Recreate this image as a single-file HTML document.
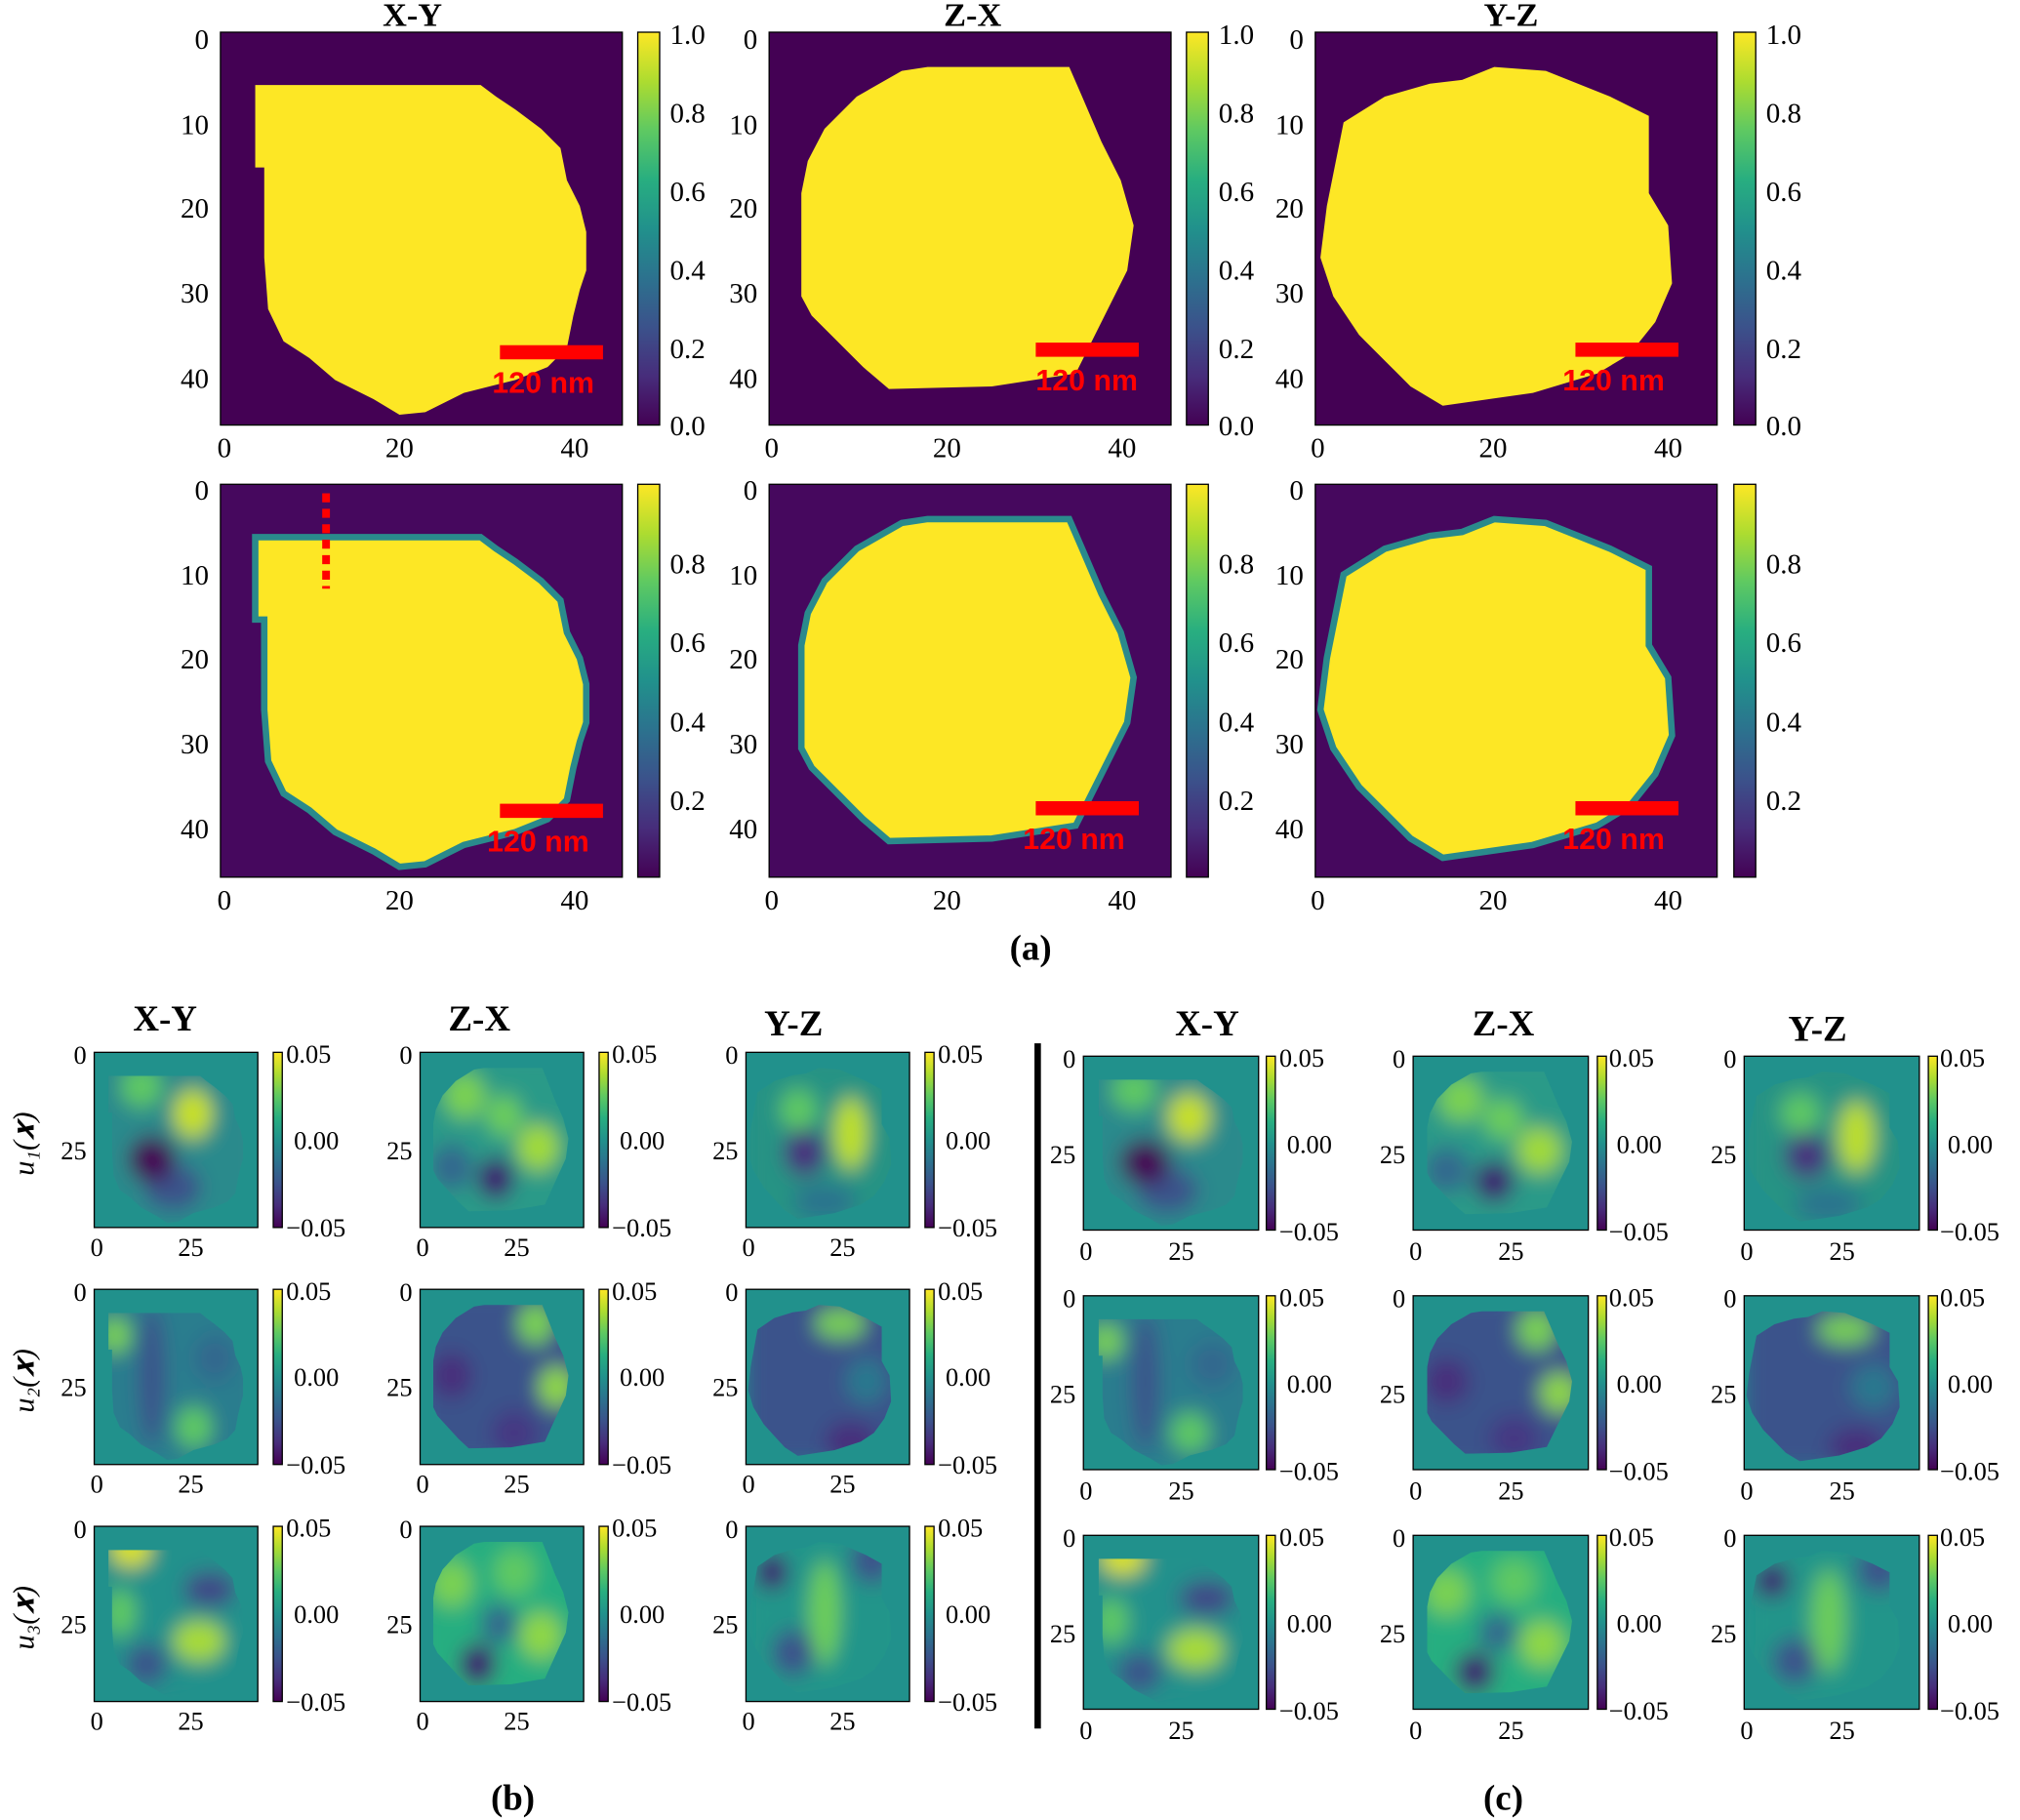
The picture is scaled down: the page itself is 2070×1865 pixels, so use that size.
<!DOCTYPE html>
<html><head><meta charset="utf-8"><style>html,body{margin:0;padding:0;background:#fff}svg{display:block}</style></head><body>
<svg width="2070" height="1865" viewBox="0 0 1568 1413" xmlns="http://www.w3.org/2000/svg" xmlns:xlink="http://www.w3.org/1999/xlink" font-family="'Liberation Serif', serif">
<defs>
<linearGradient id="vir" x1="0" y1="1" x2="0" y2="0">
<stop offset="0" stop-color="#440154"/><stop offset=".125" stop-color="#472d7b"/><stop offset=".25" stop-color="#3b528b"/><stop offset=".375" stop-color="#2c728e"/><stop offset=".5" stop-color="#21918c"/><stop offset=".625" stop-color="#28ae80"/><stop offset=".75" stop-color="#5ec962"/><stop offset=".875" stop-color="#addc30"/><stop offset="1" stop-color="#fde725"/></linearGradient>
<filter id="bl" x="-50%" y="-50%" width="200%" height="200%"><feGaussianBlur stdDeviation="18"/></filter>
<clipPath id="cXY"><polygon points="27,41 202,41 214,50 229,60 249,75 264,90 269,115 279,135 284,155 284,185 279,200 274,220 269,245 254,260 229,270 189,280 159,295 139,297 119,285 89,270 69,253 49,240 37,215 34,175 34,105 27,105"/></clipPath>
<clipPath id="cZX"><polygon points="30,100 43,75 68,50 103,30 123,27 233,27 243,50 258,85 273,115 283,150 278,185 263,215 248,245 238,265 173,275 93,277 73,260 53,240 33,220 25,205 25,125"/></clipPath>
<clipPath id="cYZ"><polygon points="22,70 54,50 89,40 114,37 139,27 179,30 229,50 259,65 259,125 274,150 277,195 264,225 244,250 219,265 169,280 99,290 74,275 54,255 34,235 14,205 4,175 9,135 19,85"/></clipPath>
<polygon id="pXY" points="27,41 202,41 214,50 229,60 249,75 264,90 269,115 279,135 284,155 284,185 279,200 274,220 269,245 254,260 229,270 189,280 159,295 139,297 119,285 89,270 69,253 49,240 37,215 34,175 34,105 27,105"/>
<polygon id="pZX" points="30,100 43,75 68,50 103,30 123,27 233,27 243,50 258,85 273,115 283,150 278,185 263,215 248,245 238,265 173,275 93,277 73,260 53,240 33,220 25,205 25,125"/>
<polygon id="pYZ" points="22,70 54,50 89,40 114,37 139,27 179,30 229,50 259,65 259,125 274,150 277,195 264,225 244,250 219,265 169,280 99,290 74,275 54,255 34,235 14,205 4,175 9,135 19,85"/>

<g id="XY1"><rect width="312" height="305" fill="#21918c"/><g clip-path="url(#cXY)"><g filter="url(#bl)"><rect width="312" height="305" fill="#2a8a8c"/><ellipse cx="90" cy="60" rx="40" ry="35" fill="#5ec962"/><ellipse cx="188" cy="107" rx="38" ry="42" fill="#c8e020"/><ellipse cx="150" cy="235" rx="55" ry="40" fill="#3b528b"/><ellipse cx="110" cy="186" rx="45" ry="40" fill="#440154"/></g></g></g>
<g id="ZX1"><rect width="312" height="305" fill="#21918c"/><g clip-path="url(#cZX)"><g filter="url(#bl)"><rect width="312" height="305" fill="#2a9a88"/><ellipse cx="85" cy="75" rx="40" ry="40" fill="#7ad151"/><ellipse cx="225" cy="165" rx="40" ry="40" fill="#a0da39"/><ellipse cx="160" cy="110" rx="35" ry="35" fill="#6ccd5a"/><ellipse cx="60" cy="200" rx="40" ry="40" fill="#31688e"/><ellipse cx="144" cy="220" rx="35" ry="35" fill="#3e0f70"/></g></g></g>
<g id="YZ1"><rect width="312" height="305" fill="#21918c"/><g clip-path="url(#cYZ)"><g filter="url(#bl)"><rect width="312" height="305" fill="#269384"/><ellipse cx="100" cy="100" rx="35" ry="35" fill="#5ec962"/><ellipse cx="150" cy="260" rx="60" ry="30" fill="#2c728e"/><ellipse cx="200" cy="141" rx="32" ry="62" fill="#bddf26"/><ellipse cx="112" cy="175" rx="40" ry="40" fill="#46327e"/></g></g></g>
<g id="XY2"><rect width="312" height="305" fill="#21918c"/><g clip-path="url(#cXY)"><g filter="url(#bl)"><rect width="312" height="305" fill="#2a7d8e"/><ellipse cx="40" cy="80" rx="30" ry="30" fill="#7ad151"/><ellipse cx="190" cy="240" rx="35" ry="35" fill="#5ec962"/><ellipse cx="230" cy="120" rx="40" ry="40" fill="#31688e"/><ellipse cx="110" cy="150" rx="25" ry="120" fill="#3b528b"/></g></g></g>
<g id="ZX2"><rect width="312" height="305" fill="#21918c"/><g clip-path="url(#cZX)"><g filter="url(#bl)"><rect width="312" height="305" fill="#3b528b"/><ellipse cx="260" cy="170" rx="35" ry="35" fill="#8fd744"/><ellipse cx="220" cy="60" rx="35" ry="35" fill="#7ad151"/><ellipse cx="60" cy="150" rx="40" ry="40" fill="#472d7b"/><ellipse cx="180" cy="250" rx="45" ry="40" fill="#443983"/></g></g></g>
<g id="YZ2"><rect width="312" height="305" fill="#21918c"/><g clip-path="url(#cYZ)"><g filter="url(#bl)"><rect width="312" height="305" fill="#3b528b"/><ellipse cx="180" cy="60" rx="50" ry="25" fill="#7ad151"/><ellipse cx="230" cy="160" rx="40" ry="40" fill="#2a788e"/><ellipse cx="200" cy="265" rx="50" ry="35" fill="#472d7b"/></g></g></g>
<g id="XY3"><rect width="312" height="305" fill="#21918c"/><g clip-path="url(#cXY)"><g filter="url(#bl)"><rect width="312" height="305" fill="#21918c"/><ellipse cx="70" cy="40" rx="40" ry="30" fill="#dde318"/><ellipse cx="50" cy="150" rx="30" ry="40" fill="#5ec962"/><ellipse cx="200" cy="200" rx="50" ry="35" fill="#a8db34"/><ellipse cx="220" cy="110" rx="50" ry="30" fill="#414487"/><ellipse cx="100" cy="240" rx="40" ry="35" fill="#3b528b"/></g></g></g>
<g id="ZX3"><rect width="312" height="305" fill="#21918c"/><g clip-path="url(#cZX)"><g filter="url(#bl)"><rect width="312" height="305" fill="#28ae80"/><ellipse cx="60" cy="100" rx="40" ry="40" fill="#7ad151"/><ellipse cx="180" cy="80" rx="40" ry="40" fill="#5ec962"/><ellipse cx="230" cy="190" rx="40" ry="40" fill="#8fd744"/><ellipse cx="150" cy="170" rx="35" ry="35" fill="#31688e"/><ellipse cx="110" cy="240" rx="35" ry="35" fill="#3e0f70"/></g></g></g>
<g id="YZ3"><rect width="312" height="305" fill="#21918c"/><g clip-path="url(#cYZ)"><g filter="url(#bl)"><rect width="312" height="305" fill="#22958a"/><ellipse cx="150" cy="150" rx="30" ry="90" fill="#6ccd5a"/><ellipse cx="240" cy="60" rx="40" ry="40" fill="#3b528b"/><ellipse cx="90" cy="220" rx="40" ry="40" fill="#3b528b"/><ellipse cx="50" cy="80" rx="30" ry="30" fill="#3e0f70"/></g></g></g>
</defs>
<rect width="1568" height="1413" fill="#fff"/>

<g font-size="22" fill="#000">
<text x="320" y="20" font-weight="bold" font-size="26" text-anchor="middle">X-Y</text>
<text x="755" y="20" font-weight="bold" font-size="26" text-anchor="middle">Z-X</text>
<text x="1173" y="20" font-weight="bold" font-size="26" text-anchor="middle">Y-Z</text>
</g>
<g transform="translate(171,25)"><rect width="312" height="305" fill="#440154"/><use xlink:href="#pXY" fill="#fde725"/></g>
<g transform="translate(597,25)"><rect width="312" height="305" fill="#440154"/><use xlink:href="#pZX" fill="#fde725"/></g>
<g transform="translate(1021,25)"><rect width="312" height="305" fill="#440154"/><use xlink:href="#pYZ" fill="#fde725"/></g>
<g transform="translate(171,376)"><rect width="312" height="305" fill="#46085e"/><use xlink:href="#pXY" fill="#fde725" stroke="#2a8a8c" stroke-width="5"/></g>
<g transform="translate(597,376)"><rect width="312" height="305" fill="#46085e"/><use xlink:href="#pZX" fill="#fde725" stroke="#2a8a8c" stroke-width="5"/></g>
<g transform="translate(1021,376)"><rect width="312" height="305" fill="#46085e"/><use xlink:href="#pYZ" fill="#fde725" stroke="#2a8a8c" stroke-width="5"/></g>
<g fill="none" stroke="#000" stroke-width="1"><rect x="171" y="25" width="312" height="305"/><rect x="597" y="25" width="312" height="305"/><rect x="1021" y="25" width="312" height="305"/><rect x="171" y="376" width="312" height="305"/><rect x="597" y="376" width="312" height="305"/><rect x="1021" y="376" width="312" height="305"/></g>
<g fill="#f00">
<rect x="388" y="268" width="80" height="11"/><rect x="804" y="266" width="80" height="11"/><rect x="1223" y="266" width="80" height="11"/>
<rect x="388" y="624" width="80" height="11"/><rect x="804" y="622" width="80" height="11"/><rect x="1223" y="622" width="80" height="11"/>
<g font-family="'Liberation Sans', sans-serif" font-weight="bold" font-size="23">
<text x="382" y="305">120 nm</text><text x="804" y="303">120 nm</text><text x="1213" y="303">120 nm</text>
<text x="378" y="661">120 nm</text><text x="794" y="659">120 nm</text><text x="1213" y="659">120 nm</text></g>
</g>
<line x1="253" y1="383" x2="253" y2="457" stroke="#f00" stroke-width="6" stroke-dasharray="7,5"/>
<g stroke="#000" stroke-width="1">
<rect x="495" y="25" width="17" height="305" fill="url(#vir)"/><rect x="921" y="25" width="17" height="305" fill="url(#vir)"/><rect x="1346" y="25" width="17" height="305" fill="url(#vir)"/>
<rect x="495" y="376" width="17" height="305" fill="url(#vir)"/><rect x="921" y="376" width="17" height="305" fill="url(#vir)"/><rect x="1346" y="376" width="17" height="305" fill="url(#vir)"/>
</g>
<g font-size="22">
<g id="cbt"><text x="520" y="34">1.0</text><text x="520" y="95">0.8</text><text x="520" y="156">0.6</text><text x="520" y="217">0.4</text><text x="520" y="278">0.2</text><text x="520" y="338">0.0</text></g>
<use xlink:href="#cbt" x="426"/><use xlink:href="#cbt" x="851"/>
<g id="cbb"><text x="520" y="445">0.8</text><text x="520" y="506">0.6</text><text x="520" y="568">0.4</text><text x="520" y="629">0.2</text></g>
<use xlink:href="#cbb" x="426"/><use xlink:href="#cbb" x="851"/>
<g id="yt" text-anchor="end"><text x="162" y="38">0</text><text x="162" y="104">10</text><text x="162" y="169">20</text><text x="162" y="235">30</text><text x="162" y="301">40</text></g>
<use xlink:href="#yt" x="426"/><use xlink:href="#yt" x="850"/>
<use xlink:href="#yt" y="350"/><use xlink:href="#yt" x="426" y="350"/><use xlink:href="#yt" x="850" y="350"/>
<g id="xt" text-anchor="middle"><text x="174" y="355">0</text><text x="310" y="355">20</text><text x="446" y="355">40</text></g>
<use xlink:href="#xt" x="425"/><use xlink:href="#xt" x="849"/>
<use xlink:href="#xt" y="351"/><use xlink:href="#xt" x="425" y="351"/><use xlink:href="#xt" x="849" y="351"/>
<text x="800" y="745" font-weight="bold" font-size="28" text-anchor="middle">(a)</text>
</g>

<g font-size="28" font-weight="bold" text-anchor="middle">
<text x="128" y="800">X-Y</text><text x="372" y="800">Z-X</text><text x="616" y="804">Y-Z</text>
<text x="937" y="804">X-Y</text><text x="1167" y="804">Z-X</text><text x="1411" y="808">Y-Z</text>
<text x="398" y="1405">(b)</text><text x="1167" y="1405">(c)</text>
</g>
<rect x="803" y="810" width="5" height="532" fill="#000"/>
<g font-size="23" font-style="italic">
<text transform="translate(26,888) rotate(-90)" text-anchor="middle">u₁(𝒙)</text>
<text transform="translate(26,1072) rotate(-90)" text-anchor="middle">u₂(𝒙)</text>
<text transform="translate(26,1256) rotate(-90)" text-anchor="middle">u₃(𝒙)</text>
</g>

<use xlink:href="#XY1" transform="translate(73,817) scale(.407,.446)"/>
<use xlink:href="#ZX1" transform="translate(326,817) scale(.407,.446)"/>
<use xlink:href="#YZ1" transform="translate(579,817) scale(.407,.446)"/>
<use xlink:href="#XY2" transform="translate(73,1001) scale(.407,.446)"/>
<use xlink:href="#ZX2" transform="translate(326,1001) scale(.407,.446)"/>
<use xlink:href="#YZ2" transform="translate(579,1001) scale(.407,.446)"/>
<use xlink:href="#XY3" transform="translate(73,1185) scale(.407,.446)"/>
<use xlink:href="#ZX3" transform="translate(326,1185) scale(.407,.446)"/>
<use xlink:href="#YZ3" transform="translate(579,1185) scale(.407,.446)"/>
<use xlink:href="#XY1" transform="translate(841,820) scale(.436,.443)"/>
<use xlink:href="#ZX1" transform="translate(1097,820) scale(.436,.443)"/>
<use xlink:href="#YZ1" transform="translate(1354,820) scale(.436,.443)"/>
<use xlink:href="#XY2" transform="translate(841,1006) scale(.436,.443)"/>
<use xlink:href="#ZX2" transform="translate(1097,1006) scale(.436,.443)"/>
<use xlink:href="#YZ2" transform="translate(1354,1006) scale(.436,.443)"/>
<use xlink:href="#XY3" transform="translate(841,1192) scale(.436,.443)"/>
<use xlink:href="#ZX3" transform="translate(1097,1192) scale(.436,.443)"/>
<use xlink:href="#YZ3" transform="translate(1354,1192) scale(.436,.443)"/>

<g stroke="#000" stroke-width="1">
<g fill="none">
<rect x="73" y="817" width="127" height="136"/><rect x="326" y="817" width="127" height="136"/><rect x="579" y="817" width="127" height="136"/>
<rect x="73" y="1001" width="127" height="136"/><rect x="326" y="1001" width="127" height="136"/><rect x="579" y="1001" width="127" height="136"/>
<rect x="73" y="1185" width="127" height="136"/><rect x="326" y="1185" width="127" height="136"/><rect x="579" y="1185" width="127" height="136"/>
<rect x="841" y="820" width="136" height="135"/><rect x="1097" y="820" width="136" height="135"/><rect x="1354" y="820" width="136" height="135"/>
<rect x="841" y="1006" width="136" height="135"/><rect x="1097" y="1006" width="136" height="135"/><rect x="1354" y="1006" width="136" height="135"/>
<rect x="841" y="1192" width="136" height="135"/><rect x="1097" y="1192" width="136" height="135"/><rect x="1354" y="1192" width="136" height="135"/>
</g>
<g fill="url(#vir)">
<rect x="212" y="817" width="7" height="136"/><rect x="465" y="817" width="7" height="136"/><rect x="718" y="817" width="7" height="136"/>
<rect x="212" y="1001" width="7" height="136"/><rect x="465" y="1001" width="7" height="136"/><rect x="718" y="1001" width="7" height="136"/>
<rect x="212" y="1185" width="7" height="136"/><rect x="465" y="1185" width="7" height="136"/><rect x="718" y="1185" width="7" height="136"/>
<rect x="983" y="820" width="7" height="135"/><rect x="1240" y="820" width="7" height="135"/><rect x="1497" y="820" width="7" height="135"/>
<rect x="983" y="1006" width="7" height="135"/><rect x="1240" y="1006" width="7" height="135"/><rect x="1497" y="1006" width="7" height="135"/>
<rect x="983" y="1192" width="7" height="135"/><rect x="1240" y="1192" width="7" height="135"/><rect x="1497" y="1192" width="7" height="135"/>
</g>
</g>

<g font-size="20">
<g id="sb">
<text x="222" y="825">0.05</text><text x="228" y="892">0.00</text><text x="222" y="960">−0.05</text>
<text x="67" y="826" text-anchor="end">0</text><text x="67" y="900" text-anchor="end">25</text>
<text x="75" y="975" text-anchor="middle">0</text><text x="148" y="975" text-anchor="middle">25</text>
</g>
<use xlink:href="#sb" x="253"/><use xlink:href="#sb" x="506"/>
<use xlink:href="#sb" y="184"/><use xlink:href="#sb" x="253" y="184"/><use xlink:href="#sb" x="506" y="184"/>
<use xlink:href="#sb" y="368"/><use xlink:href="#sb" x="253" y="368"/><use xlink:href="#sb" x="506" y="368"/>
<g id="sc">
<text x="993" y="828">0.05</text><text x="999" y="895">0.00</text><text x="993" y="963">−0.05</text>
<text x="835" y="829" text-anchor="end">0</text><text x="835" y="903" text-anchor="end">25</text>
<text x="843" y="978" text-anchor="middle">0</text><text x="917" y="978" text-anchor="middle">25</text>
</g>
<use xlink:href="#sc" x="256"/><use xlink:href="#sc" x="513"/>
<use xlink:href="#sc" y="186"/><use xlink:href="#sc" x="256" y="186"/><use xlink:href="#sc" x="513" y="186"/>
<use xlink:href="#sc" y="372"/><use xlink:href="#sc" x="256" y="372"/><use xlink:href="#sc" x="513" y="372"/>
</g>
</svg>
</body></html>
